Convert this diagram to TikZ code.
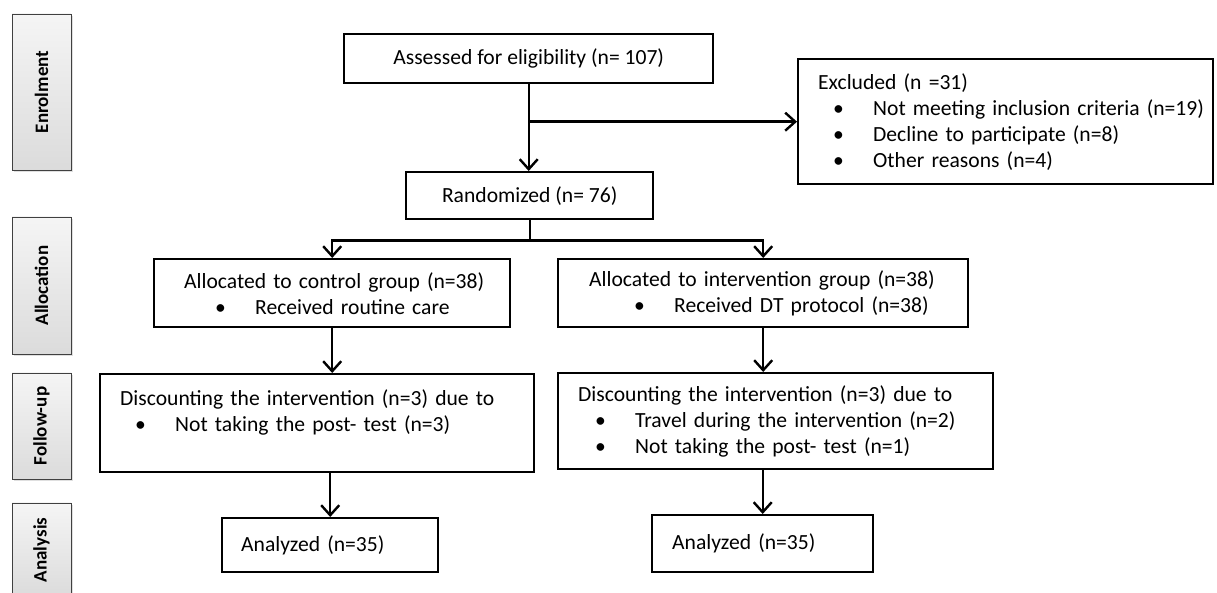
\documentclass[tikz,border=0pt]{standalone}
\usepackage{fontspec}
\setmainfont{Carlito}
\usetikzlibrary{arrows.meta,positioning,shadows,calc}

% bullet line inside a box
\newcommand{\bitem}[2][7.5pt]{\hspace*{#1}\makebox[20pt][l]{\textbullet}\mbox{#2}}

\begin{document}
\begin{tikzpicture}[
        x=0.5pt, y=-0.5pt,
        font=\fontsize{10.8}{13}\selectfont,
        box/.style={draw, line width=1.2pt, anchor=north west, inner ysep=2pt},
        listbox/.style={box, align=left},
        phase/.style={draw=black!75, rotate=90, font=\bfseries\fontsize{9.5}{11}\selectfont,
            top color=gray!8, bottom color=gray!28, minimum height=29.5pt,
            drop shadow={opacity=0.25, shadow xshift=1pt, shadow yshift=-1pt}},
        arrow/.style={-{Straight Barb[length=5pt,width=9pt]}, line width=1.2pt},
        link/.style={line width=1.2pt}
        ]
        \useasboundingbox (0,0) rectangle (1217,593);

        % --- Phase labels (left) ---
        \node[phase, minimum width=78pt]   (enrol)  at (41.5,92)    {Enrolment};
        \node[phase, minimum width=68.5pt] (alloc)  at (41.5,285.5) {Allocation};
        \node[phase, minimum width=53pt]   (follow) at (41.5,426)   {Follow-up};
        \node[phase, minimum width=47pt]   (anal)   at (41.5,550)   {Analysis};

        % --- Enrolment ---
        \node[box, minimum width=184.5pt, minimum height=24.5pt] (assess) at (343,33) {Assessed for eligibility (n= 107)};
        \node[box, minimum width=123.5pt, minimum height=23.5pt] (rand) at (405,171) {Randomized (n= 76)};
        \node[listbox, inner xsep=10pt, text width=187.5pt, minimum height=62.5pt] (excl) at (797,58)
            {\mbox{Excluded (n =31)}\\
             \bitem{Not meeting inclusion criteria (n=19)}\\
             \bitem{Decline to participate (n=8)}\\
             \bitem{Other reasons (n=4)}};

        % --- Allocation ---
        \node[listbox, inner xsep=15pt, text width=148pt, minimum height=34pt] (ctrl) at (153,258)
            {\mbox{Allocated to control group (n=38)}\\
             \bitem[15.5pt]{Received routine care}};
        \node[listbox, inner xsep=15.5pt, text width=174pt, minimum height=34pt] (intv) at (557,258)
            {\mbox{Allocated to intervention group (n=38)}\\
             \bitem[22.5pt]{Received DT protocol (n=38)}};

        % --- Follow-up ---
        \node[listbox, inner xsep=10pt, text width=197pt, minimum height=49pt] (fupc) at (99,373)
            {\mbox{Discounting the intervention (n=3) due to}\\
             \bitem{Not taking the post- test (n=3)}\\
             \mbox{}};
        \node[listbox, inner xsep=10pt, text width=197.5pt, minimum height=48pt] (fupi) at (557,372)
            {\mbox{Discounting the intervention (n=3) due to}\\
             \bitem[8.5pt]{Travel during the intervention (n=2)}\\
             \bitem[8.5pt]{Not taking the post- test (n=1)}};

        % --- Analysis ---
        \node[listbox, inner xsep=9.5pt, text width=89pt, minimum height=27pt] (anac) at (221,517) {Analyzed (n=35)};
        \node[listbox, inner xsep=10pt, text width=90.5pt, minimum height=28.5pt] (anai) at (651,514) {Analyzed (n=35)};

        % Arrows
        \draw[arrow] (assess.south) -- (assess.south |- rand.north);
        \draw[arrow] (assess.south |- excl.west) -- (excl.west);

        \coordinate (split) at ($(rand.south)+(0,20)$);
        \draw[link] (rand.south) -- (split);
        \draw[arrow] (split) -| (ctrl.north);
        \draw[arrow] (split) -| (intv.north);

        \draw[arrow] (ctrl.south) -- (ctrl.south |- fupc.north);
        \draw[arrow] (intv.south) -- (intv.south |- fupi.north);
        \draw[arrow] (anac.north |- fupc.south) -- (anac.north);
        \draw[arrow] (anai.north |- fupi.south) -- (anai.north);

    \end{tikzpicture}
\end{document}
